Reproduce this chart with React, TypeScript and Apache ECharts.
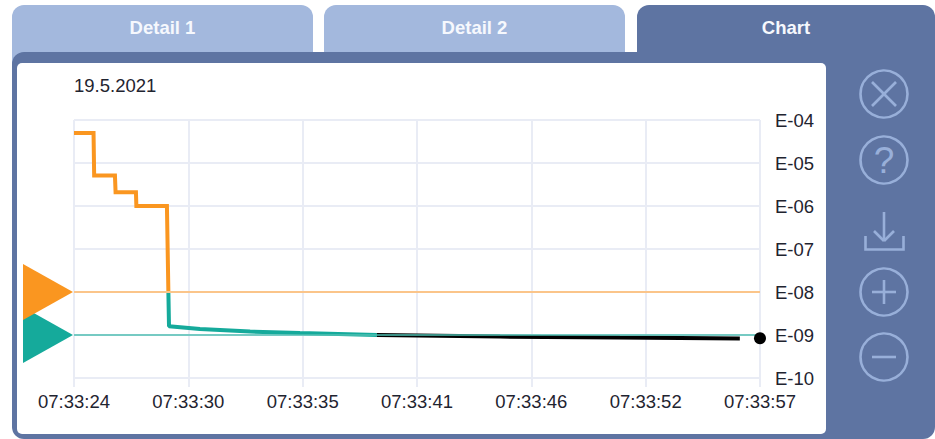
import React, { useEffect, useRef } from "react";
import * as echarts from "echarts";

const xTickLabels = ["07:33:24", "07:33:30", "07:33:35", "07:33:41", "07:33:46", "07:33:52", "07:33:57"];
const yTickLabels: Record<string, string> = { "-4": "E-04", "-5": "E-05", "-6": "E-06", "-7": "E-07", "-8": "E-08", "-9": "E-09", "-10": "E-10" };
const tabLabels = ["Detail 1", "Detail 2", "Chart"];
const dateLabel = "19.5.2021";

// seconds since 07:33:24, measured value
const orangeData = [[0, 5e-5], [0.94, 5e-5], [0.97, 5.1e-6], [1.97, 5.1e-6], [2.0, 2.1e-6], [2.98, 2.1e-6], [3.0, 1e-6], [4.47, 1e-6], [4.54, 1e-8]];
const tealData = [[4.54, 1e-8], [4.57, 1.6e-9], [6.06, 1.38e-9], [8.47, 1.2e-9], [10.87, 1.11e-9], [14.57, 1e-9]];
const blackData = [[14.57, 1e-9], [20.5, 9.2e-10], [26.26, 8.7e-10], [32.03, 8.3e-10]];
const lastPoint = [[33, 8.4e-10]];
const upperLimit = [[0, 1e-8], [33, 1e-8]];
const lowerLimit = [[0, 1e-9], [33, 1e-9]];

const ORANGE = "#FA9620";
const TEAL = "#15AA9B";
const DARK = "#5E74A2";
const LIGHT = "#A3B8DD";
const ICON = "#98AFD9";
const GRIDC = "#E9ECF5";
const FONT = "'Liberation Sans', Arial, sans-serif";
const TRI = "path://M0 0L1 0.5L0 1Z";

const iconStyle = { stroke: ICON, lineWidth: 2.6, fill: "none" };
const ring = (cy: number) => ({ type: "circle", z: -5, shape: { cx: 884, cy, r: 23.5 }, style: iconStyle });
const seg = (x1: number, y1: number, x2: number, y2: number) => ({ type: "line", z: -5, shape: { x1, y1, x2, y2 }, style: iconStyle });
const tab = (x: number, width: number, fill: string, label: string) => [
  { type: "rect", z: -9, shape: { x, y: 5, width, height: 60, r: [12, 12, 0, 0] }, style: { fill } },
  { type: "text", z: -5, style: { x: x + width / 2, y: 27, text: label, fill: "#F6F8FD", font: `bold 18.5px ${FONT}`, align: "center", verticalAlign: "middle" } },
];

export default function App() {
  const ref = useRef<HTMLDivElement>(null);
  useEffect(() => {
    document.body.style.margin = "0";
    const chart = echarts.init(ref.current!, null, { renderer: "svg" });
    chart.setOption({
      animation: false,
      backgroundColor: "#ffffff",
      grid: { left: 74, right: 175, top: 120, bottom: 61 },
      xAxis: {
        type: "value", min: 0, max: 33, interval: 5.5,
        axisLine: { show: false },
        axisTick: { show: true, length: 9, lineStyle: { color: GRIDC, width: 2 } },
        splitLine: { show: true, lineStyle: { color: GRIDC, width: 2 } },
        axisLabel: {
          color: "#1f2430", fontFamily: FONT, fontSize: 18.5, margin: 14, showMinLabel: true, showMaxLabel: true,
          formatter: (v: number) => xTickLabels[Math.round(v / 5.5)],
        },
      },
      yAxis: {
        type: "log", logBase: 10, min: 1e-10, max: 1e-4, interval: 1, position: "right",
        axisLine: { show: false },
        axisTick: { show: true, length: 9, lineStyle: { color: GRIDC, width: 2 } },
        minorTick: { show: false },
        splitLine: { show: true, lineStyle: { color: GRIDC, width: 2 } },
        axisLabel: {
          color: "#1f2430", fontFamily: FONT, fontSize: 18.5, margin: 15, showMinLabel: true, showMaxLabel: true,
          formatter: (v: number) => yTickLabels[String(Math.round(Math.log10(v)))],
        },
      },
      graphic: [
        ...tab(12, 301, LIGHT, tabLabels[0]),
        ...tab(324, 301, LIGHT, tabLabels[1]),
        ...tab(637, 298, DARK, tabLabels[2]),
        { type: "rect", z: -8, shape: { x: 12, y: 52, width: 923, height: 387, r: [12, 0, 12, 12] }, style: { fill: DARK } },
        { type: "rect", z: -7, shape: { x: 17, y: 63, width: 809, height: 371, r: 5 }, style: { fill: "#ffffff" } },
        { type: "text", z: -5, style: { x: 74, y: 85, text: dateLabel, fill: "#1f2430", font: `18.5px ${FONT}`, align: "left", verticalAlign: "middle" } },
        ring(94), seg(872, 82, 896, 106), seg(896, 82, 872, 106),
        ring(160),
        { type: "text", z: -5, style: { x: 884, y: 160, text: "?", fill: ICON, font: `37px ${FONT}`, align: "center", verticalAlign: "middle" } },
        seg(884, 212, 884, 241), seg(874, 231, 884, 241), seg(894, 231, 884, 241),
        { type: "polyline", z: -5, shape: { points: [[865.5, 236], [865.5, 249.5], [903.5, 249.5], [903.5, 236]] }, style: iconStyle },
        ring(292), seg(872, 292, 896, 292), seg(884, 280, 884, 304),
        ring(357), seg(872, 357, 896, 357),
      ],
      series: [
        { type: "line", data: orangeData, showSymbol: false, z: 3, lineStyle: { color: ORANGE, width: 4, join: "miter" } },
        { type: "line", data: tealData, showSymbol: false, z: 3, lineStyle: { color: TEAL, width: 4 } },
        { type: "line", data: blackData, showSymbol: false, z: 4, lineStyle: { color: "#000000", width: 4 } },
        { type: "line", data: upperLimit, showSymbol: false, z: 5, lineStyle: { color: "#FBC58A", width: 2 } },
        { type: "line", data: lowerLimit, showSymbol: false, z: 5, lineStyle: { color: "#4FBFB2", width: 1.5 } },
        { type: "scatter", data: lastPoint, clip: false, z: 6, symbol: "circle", symbolSize: 12, itemStyle: { color: "#000000", opacity: 1 } },
        { type: "scatter", data: [lowerLimit[0]], clip: false, z: 6, symbol: TRI, symbolSize: [50, 56], symbolOffset: [-26, 0], itemStyle: { color: TEAL, opacity: 1 } },
        { type: "scatter", data: [upperLimit[0]], clip: false, z: 7, symbol: TRI, symbolSize: [50, 56], symbolOffset: [-26, 0], itemStyle: { color: ORANGE, opacity: 1 } },
      ],
    });
    return () => chart.dispose();
  }, []);
  return <div ref={ref} style={{ width: 935, height: 439 }} />;
}
